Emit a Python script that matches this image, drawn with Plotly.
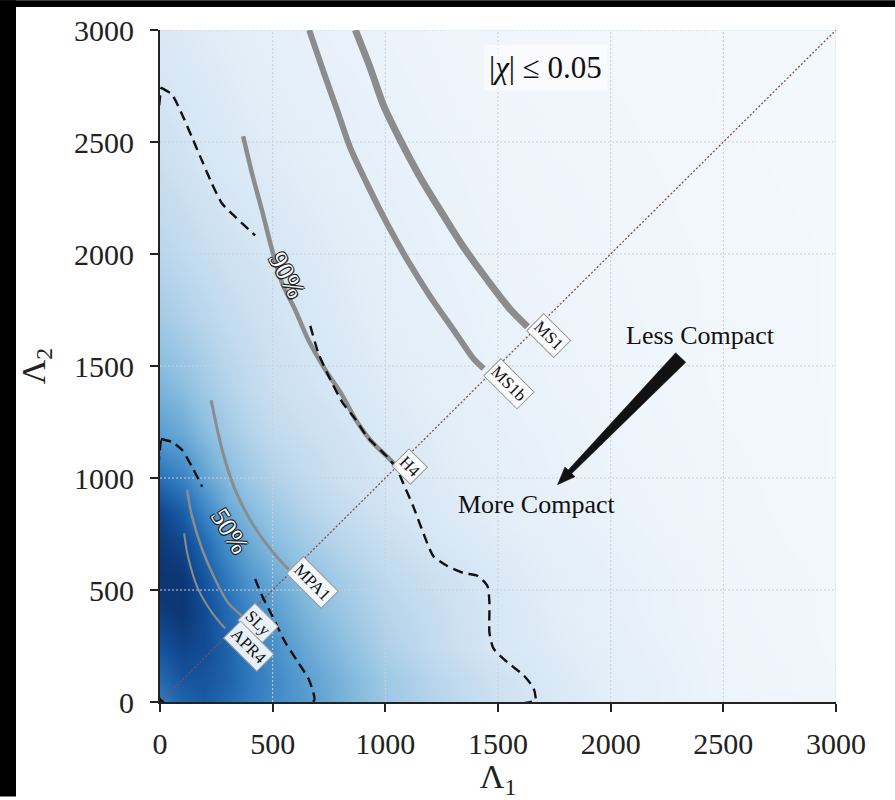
import numpy as np
import plotly.graph_objects as go

# ---------------- data ----------------
LAM1_GRID = [0, 100, 200, 300, 400, 500, 650, 800, 1000, 1250, 1500, 1750, 2000, 2500, 3000]
LAM2_GRID = [0, 100, 250, 400, 550, 700, 850, 1000, 1200, 1400, 1700, 2000, 2400, 2700, 3000]
DENSITY = [
    [0.74, 0.82, 0.85, 0.80, 0.74, 0.68, 0.61, 0.52, 0.40, 0.30, 0.22, 0.165, 0.12, 0.07, 0.045],
    [0.80, 0.87, 0.87, 0.82, 0.75, 0.69, 0.60, 0.51, 0.39, 0.29, 0.21, 0.16, 0.12, 0.07, 0.045],
    [0.88, 0.93, 0.90, 0.82, 0.74, 0.66, 0.55, 0.46, 0.34, 0.245, 0.175, 0.14, 0.11, 0.065, 0.04],
    [0.95, 0.97, 0.90, 0.80, 0.70, 0.61, 0.50, 0.41, 0.31, 0.235, 0.175, 0.13, 0.10, 0.06, 0.04],
    [0.98, 0.97, 0.87, 0.74, 0.63, 0.55, 0.45, 0.37, 0.28, 0.215, 0.16, 0.125, 0.10, 0.06, 0.04],
    [0.96, 0.92, 0.80, 0.66, 0.55, 0.47, 0.38, 0.31, 0.24, 0.18, 0.14, 0.11, 0.09, 0.055, 0.035],
    [0.92, 0.84, 0.70, 0.56, 0.47, 0.40, 0.32, 0.26, 0.20, 0.155, 0.12, 0.10, 0.08, 0.05, 0.035],
    [0.78, 0.71, 0.58, 0.47, 0.39, 0.33, 0.27, 0.22, 0.18, 0.14, 0.11, 0.09, 0.075, 0.05, 0.03],
    [0.60, 0.55, 0.46, 0.38, 0.32, 0.27, 0.23, 0.20, 0.16, 0.13, 0.10, 0.085, 0.07, 0.045, 0.03],
    [0.50, 0.45, 0.38, 0.32, 0.27, 0.23, 0.20, 0.175, 0.14, 0.11, 0.09, 0.075, 0.065, 0.04, 0.03],
    [0.38, 0.34, 0.30, 0.26, 0.23, 0.20, 0.175, 0.15, 0.12, 0.10, 0.08, 0.07, 0.06, 0.04, 0.03],
    [0.30, 0.27, 0.24, 0.21, 0.195, 0.178, 0.155, 0.135, 0.11, 0.09, 0.075, 0.065, 0.055, 0.04, 0.03],
    [0.23, 0.205, 0.18, 0.165, 0.15, 0.14, 0.125, 0.11, 0.095, 0.08, 0.065, 0.055, 0.05, 0.035, 0.025],
    [0.19, 0.175, 0.16, 0.145, 0.13, 0.12, 0.11, 0.10, 0.085, 0.07, 0.06, 0.05, 0.045, 0.03, 0.025],
    [0.16, 0.15, 0.135, 0.125, 0.115, 0.105, 0.095, 0.085, 0.075, 0.065, 0.055, 0.045, 0.04, 0.03, 0.025],
]

# credible-region contours (dashed), split around their in-line labels
C90_UPPER_L1 = [4, 53, 98, 142, 187, 231, 276, 333, 422]
C90_UPPER_L2 = [2743, 2712, 2623, 2521, 2415, 2313, 2224, 2167, 2083]
C90_LOWER_L1 = [667, 702, 747, 809, 867, 920, 1009, 1053, 1080, 1124, 1169, 1213, 1275, 1347, 1409, 1453,
                1462, 1462, 1480, 1542, 1613, 1658, 1667, 1667, 4, 4]
C90_LOWER_L2 = [1679, 1560, 1458, 1338, 1263, 1183, 1094, 1037, 975, 873, 753, 651, 607, 576, 563, 518,
                443, 310, 239, 177, 120, 62, 20, 7, 7, 2743]
C50_UPPER_L1 = [4, 53, 98, 142, 187]
C50_UPPER_L2 = [1174, 1161, 1125, 1050, 961]
C50_LOWER_L1 = [422, 453, 498, 556, 613, 658, 680, 684, 4, 4]
C50_LOWER_L2 = [549, 474, 385, 266, 177, 106, 44, 7, 7, 1174]

# equation-of-state curves
EOS = {
    "MS1":  ([867, 933, 991, 1067, 1155, 1244, 1347, 1453, 1556, 1631],
             [3000, 2831, 2666, 2507, 2342, 2195, 2031, 1884, 1751, 1675]),
    "MS1b": ([662, 724, 787, 844, 920, 1009, 1098, 1200, 1302, 1391, 1436],
             [3000, 2818, 2640, 2475, 2311, 2133, 1973, 1809, 1662, 1533, 1489]),
    "H4":   ([369, 409, 453, 498, 542, 600, 658, 733, 809, 867, 933, 1009, 1040],
             [2526, 2357, 2193, 2016, 1870, 1750, 1617, 1484, 1369, 1263, 1170, 1094, 1063]),
    "MPA1": ([227, 276, 333, 409, 480, 556, 572],
             [1347, 1125, 948, 798, 696, 607, 592]),
    "SLy":  ([120, 142, 187, 244, 302, 364],
             [948, 829, 682, 549, 443, 385]),
    "APR4": ([107, 124, 169, 231, 289],
             [753, 651, 505, 399, 328]),
}
EOS_WIDTH = {"MS1": 7, "MS1b": 6, "H4": 4.5, "MPA1": 3, "SLy": 2.5, "APR4": 2}
EOS_LABEL_POS = {"MS1": (1724, 1635), "MS1b": (1547, 1422), "H4": (1107, 1050),
                 "MPA1": (676, 532), "SLy": (436, 350), "APR4": (396, 250)}

TICKS = [0, 500, 1000, 1500, 2000, 2500, 3000]
ARROW_TAIL = (2311, 1538)
ARROW_TIP = (1764, 970)

SERIF = "Liberation Serif, Times New Roman, serif"

fig = go.Figure()

# density
fig.add_trace(go.Heatmap(
    x=LAM1_GRID, y=LAM2_GRID, z=DENSITY, zmin=0, zmax=1, zsmooth="best",
    colorscale=[[0.0, "#f6fafe"], [0.05, "#f0f6fc"], [0.12, "#e3eef8"], [0.18, "#d6e6f4"],
                [0.30, "#b9d6ec"], [0.45, "#8cbfe0"], [0.60, "#5a9ed0"], [0.75, "#2e78bd"],
                [0.88, "#14529c"], [1.0, "#0a2d68"]],
    showscale=False, hoverinfo="skip"))

# dotted grid drawn over the density
for t in TICKS[1:]:
    fig.add_trace(go.Scatter(x=[t, t], y=[0, 3000], mode="lines",
                             line=dict(color="#c9d1d8", width=1, dash="2px,2px"),
                             hoverinfo="skip", showlegend=False))
    fig.add_trace(go.Scatter(x=[0, 3000], y=[t, t], mode="lines",
                             line=dict(color="#c9d1d8", width=1, dash="2px,2px"),
                             hoverinfo="skip", showlegend=False))

# equal-Lambda diagonal
fig.add_trace(go.Scatter(x=[TICKS[0], TICKS[-1]], y=[TICKS[0], TICKS[-1]], mode="lines",
                         line=dict(color="#8b4a4a", width=1.3, dash="2px,2px"),
                         hoverinfo="skip", showlegend=False))

# EOS curves
for name, (xs, ys) in EOS.items():
    fig.add_trace(go.Scatter(x=xs, y=ys, mode="lines",
                             line=dict(color="#8a8c8d", width=EOS_WIDTH[name], shape="spline", smoothing=0.8),
                             hoverinfo="skip", showlegend=False))

# credible contours
for xs, ys in [(C90_UPPER_L1, C90_UPPER_L2), (C90_LOWER_L1, C90_LOWER_L2),
               (C50_UPPER_L1, C50_UPPER_L2), (C50_LOWER_L1, C50_LOWER_L2)]:
    fig.add_trace(go.Scatter(x=xs, y=ys, mode="lines",
                             line=dict(color="#111111", width=2.4, dash="10px,6px", shape="spline", smoothing=0.6),
                             hoverinfo="skip", showlegend=False))

# arrow (tapered wedge)
tail = np.array(ARROW_TAIL, float)
tip = np.array(ARROW_TIP, float)
d = tip - tail
L = np.hypot(*d)
u = d / L
n = np.array([-u[1], u[0]])
head_len = 80.0
base = tip - head_len * u
poly = [tail + 31 * n, base + 11 * n, base + 31 * n, tip, base - 31 * n, base - 11 * n, tail - 31 * n, tail + 31 * n]
fig.add_trace(go.Scatter(x=[p[0] for p in poly], y=[p[1] for p in poly], mode="lines",
                         fill="toself", fillcolor="#111111", line=dict(color="#111111", width=0.5),
                         hoverinfo="skip", showlegend=False))

annotations = []
for name, (lx, ly) in EOS_LABEL_POS.items():
    annotations.append(dict(x=lx, y=ly, text=name, showarrow=False, textangle=45,
                            font=dict(family=SERIF, size=17, color="#111111"),
                            bgcolor="rgba(255,255,255,0.88)", bordercolor="#9a9a9a",
                            borderwidth=1, borderpad=2))

outline = "1px 1px 0 #222, -1px -1px 0 #222, 1px -1px 0 #222, -1px 1px 0 #222"
annotations.append(dict(x=564, y=1905, text="90%", showarrow=False, textangle=62,
                        font=dict(family=SERIF, size=26, color="white", shadow=outline)))
annotations.append(dict(x=311, y=762, text="50%", showarrow=False, textangle=58,
                        font=dict(family=SERIF, size=26, color="white", shadow=outline)))
annotations.append(dict(x=1711, y=2831, text="|<i>χ</i>| ≤ 0.05", showarrow=False,
                        font=dict(family=SERIF, size=31, color="#111111"),
                        bgcolor="rgba(255,255,255,0.6)", borderpad=5))
annotations.append(dict(x=2400, y=1635, text="Less Compact", showarrow=False,
                        font=dict(family=SERIF, size=26, color="#111111")))
annotations.append(dict(x=1671, y=880, text="More Compact", showarrow=False,
                        font=dict(family=SERIF, size=26, color="#111111")))

L_M, R_M, T_M, B_M = 160, 59, 30, 95
PW = 895 - L_M - R_M
PH = 800 - T_M - B_M
shapes = [
    dict(type="rect", xref="paper", yref="paper", x0=-L_M / PW, x1=(16 - L_M) / PW,
         y0=-B_M / PH, y1=1 + T_M / PH, fillcolor="black", line=dict(width=0), layer="above"),
    dict(type="rect", xref="paper", yref="paper", x0=-L_M / PW, x1=1 + R_M / PW,
         y0=1 + (T_M - 7) / PH, y1=1 + T_M / PH, fillcolor="black", line=dict(width=0), layer="above"),
]

axis_common = dict(range=[0, 3000], tickvals=TICKS, ticks="outside", ticklen=8, tickwidth=1.5,
                   tickcolor="#222", showline=True, linecolor="#222", linewidth=1.8,
                   showgrid=False, zeroline=False, mirror=False,
                   tickfont=dict(family=SERIF, size=30, color="#222"))

fig.update_layout(
    width=895, height=800,
    margin=dict(l=L_M, r=R_M, t=T_M, b=B_M),
    paper_bgcolor="white", plot_bgcolor="white",
    showlegend=False,
    xaxis=dict(**axis_common, ticklabelstandoff=6,
               title=dict(text="Λ<sub>1</sub>", font=dict(family=SERIF, size=34, color="#222"), standoff=4)),
    yaxis=dict(**axis_common, ticklabelstandoff=10,
               title=dict(text="Λ<sub>2</sub>", font=dict(family=SERIF, size=34, color="#222"), standoff=18)),
    annotations=annotations,
    shapes=shapes,
)

fig.write_html(
    "out.html",
    post_script=("var de=document.documentElement;de.style.background='white';de.style.overflow='hidden';"
                 "de.style.margin='0';de.style.padding='0';"
                 "document.body.style.background='white';"
                 "document.body.style.margin='0';document.body.style.overflow='hidden';"),
)
